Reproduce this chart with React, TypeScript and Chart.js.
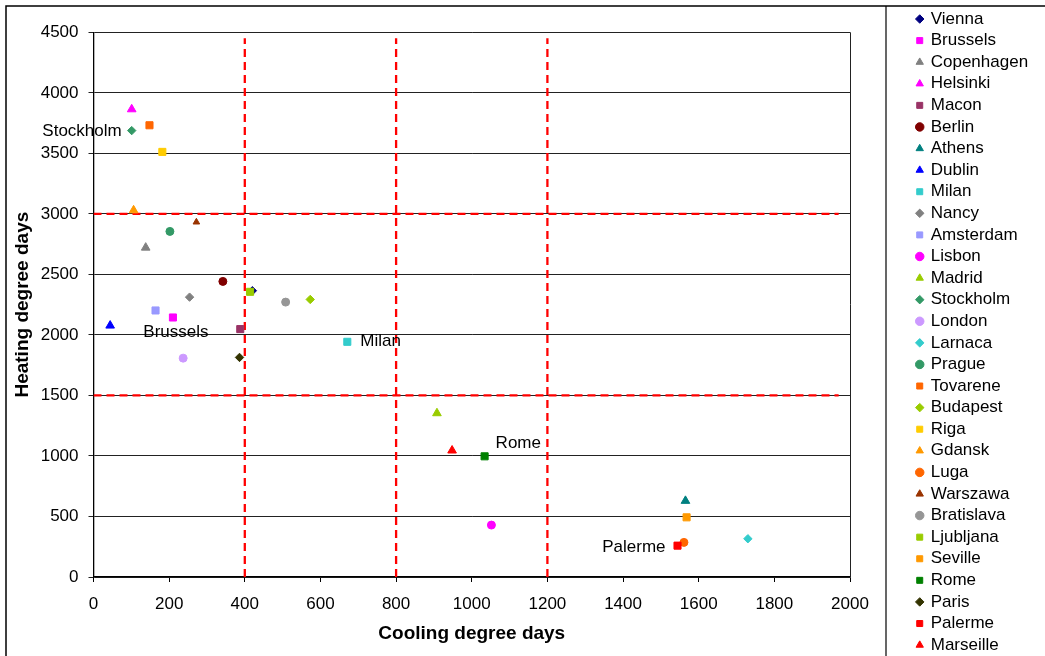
import React, { useEffect, useRef } from 'react';
import { Chart, registerables } from 'chart.js';

Chart.register(...registerables);

const cities = [
  'Vienna', 'Brussels', 'Copenhagen', 'Helsinki', 'Macon', 'Berlin', 'Athens', 'Dublin',
  'Milan', 'Nancy', 'Amsterdam', 'Lisbon', 'Madrid', 'Stockholm', 'London', 'Larnaca',
  'Prague', 'Tovarene', 'Budapest', 'Riga', 'Gdansk', 'Luga', 'Warszawa', 'Bratislava',
  'Ljubljana', 'Seville', 'Rome', 'Paris', 'Palerme', 'Marseille',
];
const coolingDays = [
  420, 210, 138, 101, 388, 342, 1565, 44,
  671, 254, 164, 1052, 908, 101, 237, 1730,
  202, 148, 573, 182, 106, 1561, 272, 508,
  414, 1568, 1034, 386, 1544, 948,
];
const heatingDays = [
  2365, 2144, 2721, 3864, 2048, 2442, 629, 2077,
  1943, 2312, 2202, 429, 1353, 3688, 1808, 316,
  2855, 3732, 2293, 3512, 3029, 286, 2932, 2271,
  2356, 493, 997, 1814, 259, 1045,
];
const markerStyles = [
  'rectRot', 'rect', 'triangle', 'triangle', 'rect', 'circle', 'triangle', 'triangle',
  'rect', 'rectRot', 'rect', 'circle', 'triangle', 'rectRot', 'circle', 'rectRot',
  'circle', 'rect', 'rectRot', 'rect', 'triangle', 'circle', 'triangle', 'circle',
  'rect', 'rect', 'rect', 'rectRot', 'rect', 'triangle',
];
const markerColors = [
  '#000080', '#FF00FF', '#808080', '#FF00FF', '#993366', '#800000', '#008080', '#0000FF',
  '#33CCCC', '#808080', '#9999FF', '#FF00FF', '#99CC00', '#339966', '#CC99FF', '#33CCCC',
  '#339966', '#FF6600', '#99CC00', '#FFCC00', '#FF9900', '#FF6600', '#993300', '#969696',
  '#99CC00', '#FF9900', '#008000', '#333300', '#FF0000', '#FF0000',
];
const smallMarkerCities = ['Warszawa'];

const coolingThresholds = [400, 800, 1200];
const heatingThresholds = [1500, 3000];
const thresholdTopY = 4450;
const thresholdEndX = 1970;

const labelledCities = ['Stockholm', 'Brussels', 'Milan', 'Rome', 'Palerme'];
const labelPlacement: Record<string, { align: CanvasTextAlign; dx: number; dy: number }> = {
  Stockholm: { align: 'right', dx: -10, dy: 1 },
  Brussels: { align: 'center', dx: 3, dy: 14.5 },
  Milan: { align: 'left', dx: 13, dy: 0 },
  Rome: { align: 'left', dx: 11, dy: -13 },
  Palerme: { align: 'right', dx: -12, dy: 1.5 },
};

const FONT = "'Liberation Sans', Arial, Helvetica, sans-serif";

const radiusFor = (style: string, city: string) => {
  if (smallMarkerCities.includes(city)) return 3.8;
  if (style === 'rect') return 5;
  if (style === 'rectRot') return 4.2;
  if (style === 'circle') return 4;
  return 5;
};

const decorPlugin = {
  id: 'decor',
  afterUpdate(chart: any) {
    const lg = chart.legend;
    if (!lg) return;
    lg.left = 912.64;
    lg.right = 1045;
    lg.top = 5.91;
    lg.bottom = 700;
    lg.width = lg.right - lg.left;
    lg.height = lg.bottom - lg.top;
  },
  afterDatasetsDraw(chart: any) {
    const { ctx, chartArea } = chart;
    const xs = chart.scales.x;
    const ys = chart.scales.y;
    ctx.save();
    ctx.strokeStyle = '#222';
    ctx.lineWidth = 1;
    ctx.beginPath();
    ctx.moveTo(Math.round(chartArea.right) + 0.5, chartArea.top);
    ctx.lineTo(Math.round(chartArea.right) + 0.5, chartArea.bottom);
    ctx.stroke();
    ctx.fillStyle = '#000';
    ctx.font = `17px ${FONT}`;
    ctx.textBaseline = 'middle';
    labelledCities.forEach((c) => {
      const i = cities.indexOf(c);
      const p = labelPlacement[c];
      const px = xs.getPixelForValue(coolingDays[i]);
      const py = ys.getPixelForValue(heatingDays[i]);
      ctx.textAlign = p.align;
      ctx.fillText(c, px + p.dx, py + p.dy);
    });
    ctx.restore();
  },
  afterDraw(chart: any) {
    const { ctx } = chart;
    ctx.save();
    ctx.strokeStyle = '#000';
    ctx.lineWidth = 1.5;
    ctx.beginPath();
    ctx.moveTo(6, 656);
    ctx.lineTo(6, 6);
    ctx.lineTo(1045, 6);
    ctx.stroke();
    ctx.lineWidth = 1.2;
    ctx.beginPath();
    ctx.moveTo(886, 6);
    ctx.lineTo(886, 656);
    ctx.stroke();
    ctx.restore();
  },
};

export default function App() {
  const canvasRef = useRef<HTMLCanvasElement | null>(null);

  useEffect(() => {
    if (!canvasRef.current) return;

    const cityDatasets = cities.map((c, i) => ({
      label: c,
      data: [{ x: coolingDays[i], y: heatingDays[i] }],
      pointStyle: markerStyles[i],
      backgroundColor: markerColors[i],
      borderColor: markerColors[i],
      borderWidth: 1,
      pointRadius: radiusFor(markerStyles[i], c),
      pointHoverRadius: radiusFor(markerStyles[i], c),
      showLine: false,
      order: -i,
    }));

    const vDatasets = coolingThresholds.map((v) => ({
      label: '',
      data: [{ x: v, y: 0 }, { x: v, y: thresholdTopY }],
      showLine: true,
      borderColor: '#FF0000',
      backgroundColor: '#FF0000',
      borderWidth: 2.3,
      borderDash: [8, 5],
      pointRadius: 0,
      fill: false,
      order: 10,
    }));
    const hDatasets = heatingThresholds.map((v) => ({
      label: '',
      data: [{ x: 0, y: v }, { x: thresholdEndX, y: v }],
      showLine: true,
      borderColor: '#FF0000',
      backgroundColor: '#FF0000',
      borderWidth: 2.3,
      borderDash: [8, 5],
      pointRadius: 0,
      fill: false,
      order: 10,
    }));

    const chart = new Chart(canvasRef.current, {
      type: 'scatter',
      data: { datasets: [...cityDatasets, ...vDatasets, ...hDatasets] as any },
      plugins: [decorPlugin],
      options: {
        animation: false,
        responsive: false,
        maintainAspectRatio: false,
        devicePixelRatio: 1,
        layout: { padding: { top: 32.3, right: 95, bottom: 0, left: 0 } },
        plugins: {
          tooltip: { enabled: false },
          legend: {
            display: true,
            position: 'right',
            align: 'start',
            maxWidth: 100,
            labels: {
              usePointStyle: true,
              boxWidth: 5,
              boxHeight: 6,
              padding: 4.59,
              color: '#000',
              font: { family: FONT, size: 17 },
              filter: (item: any) => item.datasetIndex < cities.length,
              sort: (a: any, b: any) => a.datasetIndex - b.datasetIndex,
            },
          },
        },
        scales: {
          x: {
            type: 'linear',
            position: 'bottom',
            min: 0,
            max: 2000,
            afterFit: (s: any) => { s.height = 79; },
            ticks: {
              stepSize: 200,
              padding: 12,
              color: '#000',
              font: { family: FONT, size: 17 },
              callback: (v: any) => String(v),
            },
            grid: {
              drawOnChartArea: false,
              drawTicks: true,
              tickLength: 5,
              color: '#000',
            },
            border: { display: true, color: '#000', width: 1.3 },
            title: {
              display: true,
              text: 'Cooling degree days',
              color: '#000',
              font: { family: FONT, size: 19, weight: 'bold' },
              padding: { top: 0, bottom: 10.6 },
            },
          },
          y: {
            type: 'linear',
            position: 'left',
            min: 0,
            max: 4500,
            afterFit: (s: any) => { s.width = 93.5; },
            ticks: {
              stepSize: 500,
              padding: 10,
              color: '#000',
              font: { family: FONT, size: 17 },
              callback: (v: any) => String(v),
            },
            grid: {
              color: '#222',
              tickLength: 5,
              drawTicks: true,
            },
            border: { display: true, color: '#000', width: 1.3 },
            title: {
              display: true,
              text: 'Heating degree days',
              color: '#000',
              font: { family: FONT, size: 19, weight: 'bold' },
              padding: { top: 11.6, bottom: 0 },
            },
          },
        },
      } as any,
    });

    return () => chart.destroy();
  }, []);

  return (
    <div style={{ position: 'absolute', left: 0, top: 0, width: 1045, height: 656, background: '#fff' }}>
      <canvas ref={canvasRef} width={1045} height={656} style={{ display: 'block', width: 1045, height: 656 }} />
    </div>
  );
}
